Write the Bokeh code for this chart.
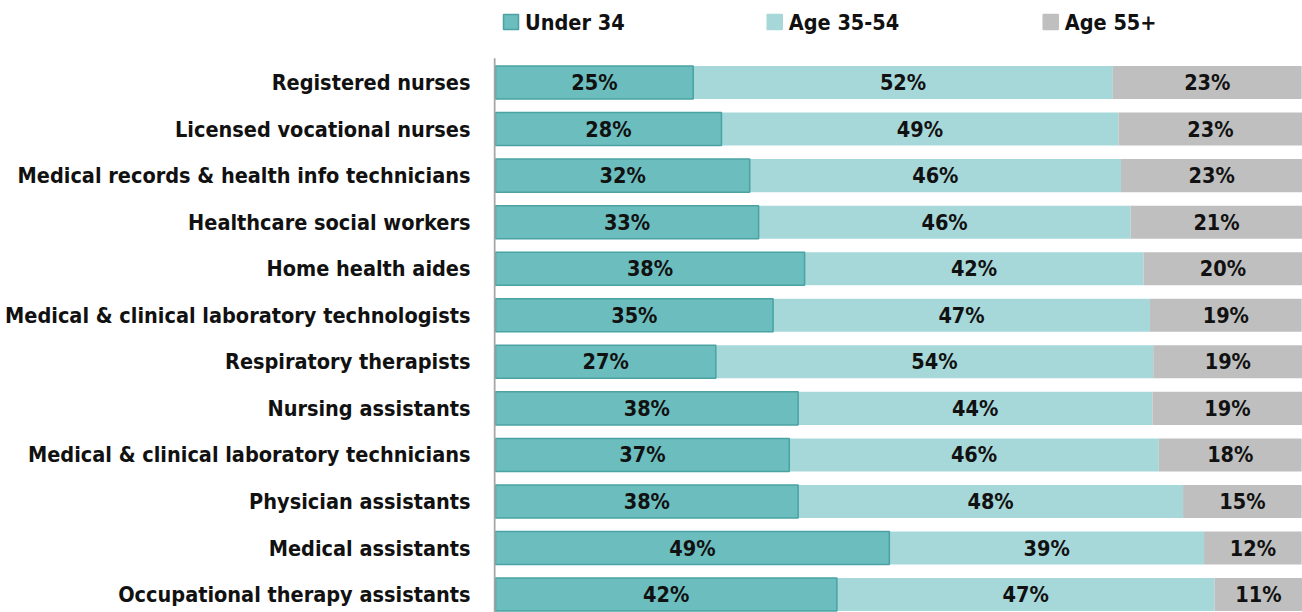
from bokeh.plotting import figure
from bokeh.models import Range1d, FixedTicker, ColumnDataSource
from bokeh.core.properties import value
from bokeh.embed import file_html
from bokeh.resources import INLINE

categories = [
    "Registered nurses",
    "Licensed vocational nurses",
    "Medical records & health info technicians",
    "Healthcare social workers",
    "Home health aides",
    "Medical & clinical laboratory technologists",
    "Respiratory therapists",
    "Nursing assistants",
    "Medical & clinical laboratory technicians",
    "Physician assistants",
    "Medical assistants",
    "Occupational therapy assistants",
]
under34 = [24.5, 28.0, 31.5, 32.6, 38.3, 34.4, 27.3, 37.5, 36.4, 37.5, 48.8, 42.3]
age35_54 = [52.0, 49.2, 46.0, 46.1, 42.0, 46.7, 54.2, 43.9, 45.8, 47.7, 39.0, 46.8]
age55 = [23.4, 22.8, 22.6, 21.3, 19.7, 18.8, 18.6, 18.6, 17.7, 14.7, 12.1, 10.9]
under34_lbl = ["25%", "28%", "32%", "33%", "38%", "35%", "27%", "38%", "37%", "38%", "49%", "42%"]
age35_54_lbl = ["52%", "49%", "46%", "46%", "42%", "47%", "54%", "44%", "46%", "48%", "39%", "47%"]
age55_lbl = ["23%", "23%", "23%", "21%", "20%", "19%", "19%", "19%", "18%", "15%", "12%", "11%"]
series_names = ["Under 34", "Age 35-54", "Age 55+"]

FONT = "DejaVu Sans Condensed"
FS = "21.5px"
C1, C1_EDGE, C2, C3 = "#6bbdbe", "#4aa2a3", "#a6d7d9", "#bfbfbf"
TXT = "#111111"

n = len(categories)
ys = list(range(n))
left1 = [0.0] * n
right1 = under34
left2 = under34
right2 = [a + b for a, b in zip(under34, age35_54)]
left3 = right2
right3 = [a + b for a, b in zip(right2, age55)]

p = figure(width=1302, height=612, output_backend="svg", toolbar_location=None,
           x_range=Range1d(-0.25, 100), y_range=Range1d(11.385, -1.762),
           min_border_left=493, min_border_right=0, min_border_top=0, min_border_bottom=0)
p.outline_line_color = None
p.xgrid.visible = False
p.ygrid.visible = False
p.xaxis.visible = False

src = ColumnDataSource(dict(y=ys, l1=left1, r1=right1, l2=left2, r2=right2, l3=left3, r3=right3,
                            c1=[(a + b) / 2 for a, b in zip(left1, right1)],
                            c2=[(a + b) / 2 for a, b in zip(left2, right2)],
                            c3=[(a + b) / 2 for a, b in zip(left3, [min(r, 100) for r in right3])],
                            t1=under34_lbl, t2=age35_54_lbl, t3=age55_lbl))

H = 0.71
p.hbar(y="y", left="l2", right="r2", height=H, source=src, fill_color=C2, line_color=None)
p.hbar(y="y", left="l3", right="r3", height=H, source=src, fill_color=C3, line_color=None)
p.hbar(y="y", left="l1", right="r1", height=H, source=src, fill_color=C1, line_color=C1_EDGE, line_width=1.5)

for col in ("1", "2", "3"):
    p.text(x="c" + col, y="y", text="t" + col, source=src, text_align="center", text_baseline="middle",
           text_font=value(FONT), text_font_size=FS, text_font_style="bold", text_color=TXT)

# vertical axis line
p.segment(x0=[-0.12], y0=[-0.52], x1=[-0.12], y1=[11.6], line_color="#a6a6a6", line_width=2)

# legend
leg_x = [1.92, 34.6, 68.8]
leg_y = [-1.30] * 3
leg_col = [C1, C2, C3]
leg_edge = [C1_EDGE, C2, C3]
p.rect(x=leg_x, y=leg_y, width=15, height=15, width_units="screen", height_units="screen",
       fill_color=leg_col, line_color=leg_edge, line_width=1.5)
p.text(x=leg_x, y=leg_y, text=series_names, x_offset=14, text_align="left", text_baseline="middle",
       text_font=value(FONT), text_font_size=FS, text_font_style="bold", text_color=TXT)

ax = p.yaxis[0]
ax.ticker = FixedTicker(ticks=ys)
ax.major_label_overrides = {i: c for i, c in enumerate(categories)}
ax.axis_line_color = None
ax.major_tick_line_color = None
ax.minor_tick_line_color = None
ax.major_tick_out = 0
ax.major_tick_in = 0
ax.major_label_standoff = 23
ax.major_label_text_font = FONT
ax.major_label_text_font_size = FS
ax.major_label_text_font_style = "bold"
ax.major_label_text_color = TXT

open("out.html", "w").write(file_html(p, INLINE))
